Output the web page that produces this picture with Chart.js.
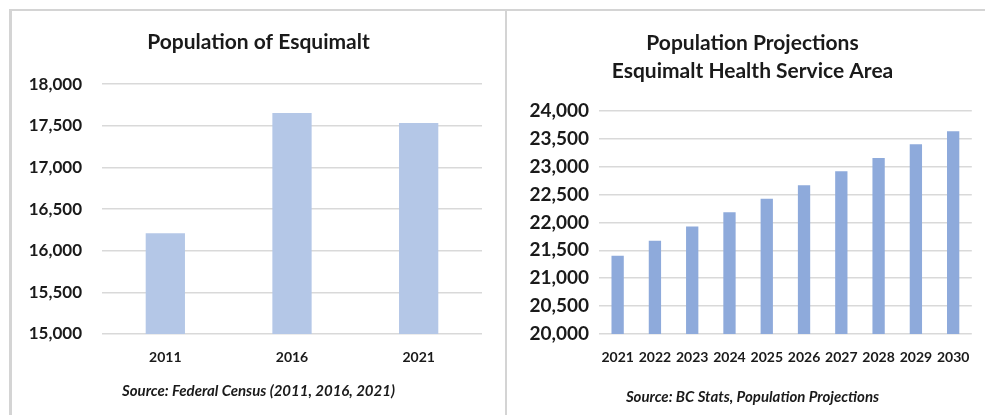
<!DOCTYPE html>
<html>
<head>
<meta charset="utf-8">
<script src="https://cdn.jsdelivr.net/npm/chart.js@4"></script>
<style>
  html, body { margin: 0; padding: 0; background: #fff; }
  body { width: 985px; height: 415px; position: relative; overflow: hidden; }
  .line { position: absolute; background: #d4d4d4; }
  .panel { position: absolute; }
</style>
</head>
<body>
<div class="line" style="left:9px; top:9px; width:976px; height:2px;"></div>
<div class="line" style="left:9px; top:9px; width:3px; height:406px;"></div>
<div class="line" style="left:505px; top:9px; width:2px; height:406px;"></div>

<div class="panel" style="left:12px; top:12px; width:493px; height:403px;">
  <canvas id="censusChart"></canvas>
</div>
<div class="panel" style="left:508px; top:12px; width:477px; height:403px;">
  <canvas id="projectionChart"></canvas>
</div>

<script>
// census counts
const censusYears = ['2011', '2016', '2021'];
const censusPop = [16209, 17655, 17533];

// BC Stats projections
const projYears = ['2021', '2022', '2023', '2024', '2025', '2026', '2027', '2028', '2029', '2030'];
const projPop = [21405, 21674, 21930, 22182, 22427, 22666, 22917, 23157, 23402, 23635];

const FONT = 'Lato, "Open Sans", sans-serif';
const TEXT = '#1a1a1a';
const GRID = '#d9d9d9';

Chart.defaults.font.family = FONT;
Chart.defaults.color = TEXT;
Chart.defaults.animation = false;

// empty right-hand axis, only used as a spacer so titles stay centred on the panel
function spacerAxis(w) {
  return {
    position: 'right',
    display: true,
    grid: { display: false, drawTicks: false },
    border: { display: false },
    ticks: { display: false },
    afterFit: (axis) => { axis.width = w; }
  };
}

let censusChart, projectionChart;

// 인구조사
censusChart = new Chart(document.getElementById('censusChart').getContext('2d'), {
  type: 'bar',
  data: {
    labels: censusYears,
    datasets: [{
      data: censusPop,
      backgroundColor: '#b4c7e7',
      categoryPercentage: 1,
      barPercentage: 0.31
    }]
  },
  options: {
    responsive: true,
    maintainAspectRatio: false,
    layout: { padding: 0 },
    plugins: {
      legend: { display: false },
      tooltip: { enabled: false },
      title: {
        display: true,
        text: 'Population of Esquimalt',
        font: { size: 21, weight: 'bold', lineHeight: 1.2 },
        color: TEXT,
        padding: { top: 18, bottom: 29 }
      },
      subtitle: {
        display: true,
        position: 'bottom',
        text: 'Source: Federal Census (2011, 2016, 2021)',
        font: { size: 15, weight: 'bold', style: 'italic', lineHeight: 1.2 },
        color: TEXT,
        padding: { top: 0, bottom: 15 }
      }
    },
    scales: {
      x: {
        grid: { display: false, drawTicks: false },
        border: { display: false },
        ticks: { font: { size: 14, weight: 'bold' }, padding: 15, color: TEXT },
        afterFit: (axis) => { axis.height = 48; }
      },
      y: {
        min: 15000,
        max: 18000,
        ticks: { stepSize: 500, font: { size: 17, weight: 'bold' }, padding: 20, color: TEXT },
        grid: { color: GRID, lineWidth: 1.5, drawTicks: false },
        border: { display: false },
        afterFit: (axis) => { axis.width = 90; }
      },
      yR: spacerAxis(23)
    }
  }
});

// 인구추계
projectionChart = new Chart(document.getElementById('projectionChart').getContext('2d'), {
  type: 'bar',
  data: {
    labels: projYears,
    datasets: [{
      data: projPop,
      backgroundColor: '#8eaadb',
      categoryPercentage: 1,
      barPercentage: 0.33
    }]
  },
  options: {
    responsive: true,
    maintainAspectRatio: false,
    layout: { padding: { left: 12, right: 0, top: 0, bottom: 0 } },
    plugins: {
      legend: { display: false },
      tooltip: { enabled: false },
      title: {
        display: true,
        text: ['Population Projections', 'Esquimalt Health Service Area'],
        font: { size: 21, weight: 'bold', lineHeight: 1.333 },
        color: TEXT,
        padding: { top: 17, bottom: 26 }
      },
      subtitle: {
        display: true,
        position: 'bottom',
        text: 'Source: BC Stats, Population Projections',
        font: { size: 15, weight: 'bold', style: 'italic', lineHeight: 1.2 },
        color: TEXT,
        padding: { top: 0, bottom: 9 }
      }
    },
    scales: {
      x: {
        grid: { display: false, drawTicks: false },
        border: { display: false },
        ticks: { font: { size: 14, weight: 'bold' }, padding: 15, color: TEXT, maxRotation: 0, autoSkip: false },
        afterFit: (axis) => { axis.height = 54; }
      },
      y: {
        min: 20000,
        max: 24000,
        ticks: { stepSize: 500, font: { size: 19, weight: 'bold' }, padding: 10, color: TEXT },
        grid: { color: GRID, lineWidth: 1.5, drawTicks: false },
        border: { display: false },
        afterFit: (axis) => { axis.width = 79; }
      },
      yR: spacerAxis(12)
    }
  }
});
</script>
</body>
</html>
